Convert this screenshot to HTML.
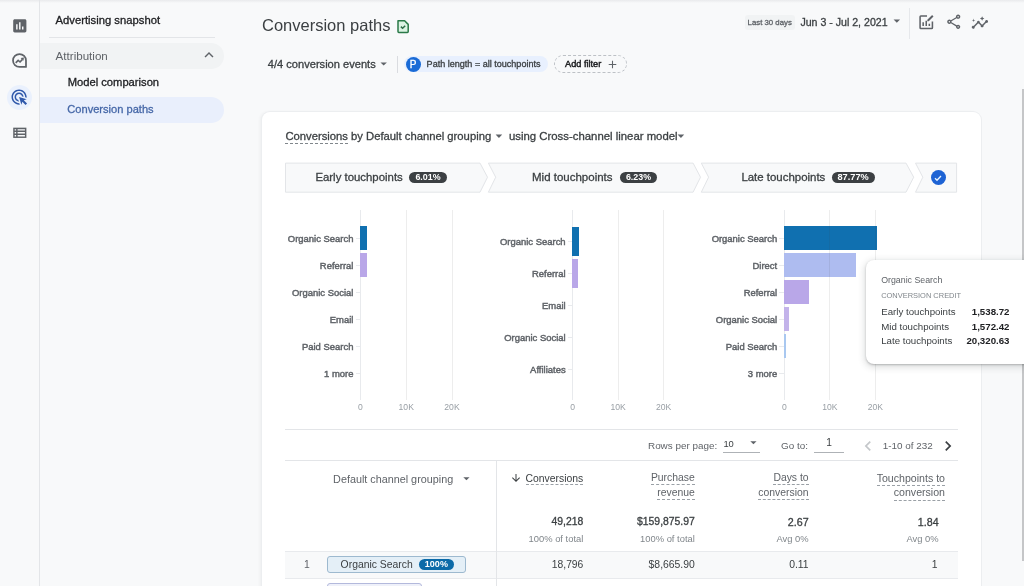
<!DOCTYPE html>
<html><head><meta charset="utf-8"><title>Conversion paths</title>
<style>
html,body{margin:0;padding:0;}
body{width:1024px;height:586px;overflow:hidden;position:relative;background:#f8f9fa;font-family:'Liberation Sans', Arial, sans-serif;}
.t{position:absolute;white-space:nowrap;line-height:1;}
</style></head><body>
<div style="position:absolute;left:0px;top:0px;width:1024px;height:3px;background:linear-gradient(#e9eaec,#f8f9fa)"></div>
<div style="position:absolute;left:39px;top:0px;width:1px;height:586px;background:#e3e5e8"></div>
<svg style="position:absolute;left:10.5px;top:16.5px;" width="17.6" height="17.6" viewBox="0 0 24 24"><path fill="#5f6368" d="M19 3H5c-1.1 0-2 .9-2 2v14c0 1.1.9 2 2 2h14c1.1 0 2-.9 2-2V5c0-1.1-.9-2-2-2zM9 17H7v-7h2v7zm4 0h-2V7h2v10zm4 0h-2v-4h2v4z"/></svg>
<svg style="position:absolute;left:10px;top:51px;" width="19" height="19" viewBox="0 0 24 24"><path d="M20.2 12A8.2 8.2 0 1 0 12 20.2H20.2Z" fill="none" stroke="#5f6368" stroke-width="2.2" stroke-linejoin="round"/><path d="M7.2 15l3.1-3.2 2.4 2.1 3-3.3" fill="none" stroke="#5f6368" stroke-width="2"/><path d="M17.6 8.2l-4.2.6 3.6 3.6z" fill="#5f6368"/></svg>
<div style="position:absolute;left:7.2px;top:84.8px;width:25px;height:25px;border-radius:50%;background:#eaf1fd"></div>
<svg style="position:absolute;left:10.3px;top:87.5px;" width="18.2" height="18.2" viewBox="0 0 24 24"><path fill="#3059ab" d="M11.71 17.99C8.53 17.84 6 15.22 6 12c0-3.31 2.69-6 6-6 3.22 0 5.84 2.53 5.99 5.71l-2.1-.63C15.48 9.31 13.89 8 12 8c-2.21 0-4 1.79-4 4 0 1.89 1.31 3.48 3.08 3.89l.63 2.1zM22 12c0 .3-.01.6-.04.9l-1.97-.59c.01-.1.01-.21.01-.31 0-4.42-3.58-8-8-8s-8 3.58-8 8 3.58 8 8 8c.1 0 .21 0 .31-.01l.59 1.97c-.3.03-.6.04-.9.04-5.52 0-10-4.48-10-10S6.48 2 12 2s10 4.48 10 10zm-3.77 4.26L22 15l-10-3 3 10 1.26-3.77 4.27 4.27 1.98-1.98-4.28-4.26z"/></svg>
<svg style="position:absolute;left:10.5px;top:124px;" width="17.6" height="17.6" viewBox="0 0 24 24"><path fill="#5f6368" d="M3 5h18v14H3z"/><path fill="#f8f9fa" d="M5 7h2v2H5zM9 7h10v2H9zM5 11h2v2H5zM9 11h10v2H9zM5 15h2v2H5zM9 15h10v2H9z"/></svg>
<div class="t" style="left:55.60px;top:15.28px;font-size:11.25px;color:#202124;font-weight:400;-webkit-text-stroke:0.3px currentColor;">Advertising snapshot</div>
<div style="position:absolute;left:49px;top:37px;width:166px;height:1px;background:#e3e5e8"></div>
<div style="position:absolute;left:40px;top:43px;width:183.6px;height:26.3px;background:#f1f3f4;border-radius:0 13px 13px 0"></div>
<div class="t" style="left:55.60px;top:49.68px;font-size:11.6px;color:#5f6368;font-weight:400;">Attribution</div>
<svg style="position:absolute;left:200px;top:46px;" width="18" height="18" viewBox="0 0 24 24"><path fill="#5f6368" d="M12 8l-6 6 1.41 1.41L12 10.83l4.59 4.58L18 14z"/></svg>
<div class="t" style="left:67.70px;top:77.02px;font-size:11.2px;color:#202124;font-weight:400;-webkit-text-stroke:0.3px currentColor;">Model comparison</div>
<div style="position:absolute;left:40px;top:96.6px;width:183.6px;height:26.4px;background:#e9effc;border-radius:0 13px 13px 0"></div>
<div class="t" style="left:67.30px;top:104.30px;font-size:11.1px;color:#4668a8;font-weight:400;-webkit-text-stroke:0.3px currentColor;">Conversion paths</div>
<div class="t" style="left:262.00px;top:16.83px;font-size:16.5px;color:#3c4043;font-weight:400;">Conversion paths</div>
<svg style="position:absolute;left:395px;top:18px;" width="16" height="16" viewBox="0 0 16 16"><path d="M3 2.8h6.6l3.6 3.6v7.2a.8.8 0 0 1-.8.8H3.8a.8.8 0 0 1-.8-.8z" fill="#dcf3e3" stroke="#2a7a48" stroke-width="1.5" stroke-linejoin="round"/><path d="M5.9 8.6l1.7 1.7 2.6-2.6" fill="none" stroke="#2f6e48" stroke-width="1.5"/></svg>
<div class="t" style="left:267.80px;top:58.60px;font-size:11.1px;color:#3c4043;font-weight:400;-webkit-text-stroke:0.3px currentColor;">4/4 conversion events</div>
<svg style="position:absolute;left:376.22px;top:56.20px" width="15.36" height="15.36" viewBox="0 0 24 24"><path fill="#5f6368" d="M7 10l5 5 5-5z"/></svg>
<div style="position:absolute;left:397px;top:56px;width:1px;height:16.5px;background:#dadce0"></div>
<div style="position:absolute;left:404.4px;top:56.2px;width:144px;height:15.4px;background:#e8f0fe;border-radius:8px"></div>
<div style="position:absolute;left:405.5px;top:56.5px;width:15.3px;height:15.3px;border-radius:50%;background:#1a6bd6;color:#fff;-webkit-text-stroke:0.3px #fff;font:400 10px/15.3px 'Liberation Sans', Arial, sans-serif;text-align:center">P</div>
<div class="t" style="left:426.60px;top:59.64px;font-size:9.05px;color:#3c4043;font-weight:400;-webkit-text-stroke:0.3px currentColor;">Path length = all touchpoints</div>
<div style="position:absolute;left:554.4px;top:55px;width:72.6px;height:17.6px;border:1px dashed #bdc1c6;border-radius:9px;box-sizing:border-box"></div>
<div class="t" style="left:565.00px;top:59.61px;font-size:9.2px;color:#202124;font-weight:400;-webkit-text-stroke:0.45px currentColor;">Add filter</div>
<svg style="position:absolute;left:605.5px;top:57.5px;" width="13" height="13" viewBox="0 0 24 24"><path fill="#5f6368" d="M19 13h-6v6h-2v-6H5v-2h6V5h2v6h6v2z"/></svg>
<div style="position:absolute;left:745px;top:14.5px;width:49.6px;height:15px;background:#f1f3f4;border-radius:3px"></div>
<div class="t" style="left:747.60px;top:19.00px;font-size:7.8px;color:#5f6368;font-weight:400;-webkit-text-stroke:0.3px currentColor;">Last 30 days</div>
<div class="t" style="left:800.40px;top:17.33px;font-size:10.6px;color:#3c4043;font-weight:400;-webkit-text-stroke:0.3px currentColor;">Jun 3 - Jul 2, 2021</div>
<svg style="position:absolute;left:888.60px;top:13.27px" width="15.60" height="15.60" viewBox="0 0 24 24"><path fill="#5f6368" d="M7 10l5 5 5-5z"/></svg>
<div style="position:absolute;left:909px;top:8px;width:1px;height:31px;background:#e6e8eb"></div>
<svg style="position:absolute;left:917.2px;top:12.8px;" width="18.5" height="18.5" viewBox="0 0 24 24"><path fill="none" stroke="#5f6368" stroke-width="2" d="M13 4H5a1 1 0 0 0-1 1v14a1 1 0 0 0 1 1h14a1 1 0 0 0 1-1v-8"/><path fill="#5f6368" d="M7 12h2v5H7zM11 10h2v7h-2zM15 14h2v3h-2z"/><path fill="#5f6368" d="M19.6 2.6l1.8 1.8-6.2 6.2h-1.8V8.8z"/></svg>
<svg style="position:absolute;left:944.65px;top:13.45px;" width="17.5" height="17.5" viewBox="0 0 24 24"><path fill="#5f6368" d="M18 16.08c-.76 0-1.44.3-1.96.77L8.91 12.7c.05-.23.09-.46.09-.7s-.04-.47-.09-.7l7.05-4.11c.54.5 1.25.81 2.04.81 1.66 0 3-1.34 3-3s-1.34-3-3-3-3 1.34-3 3c0 .24.04.47.09.7L8.04 9.81C7.5 9.31 6.79 9 6 9c-1.66 0-3 1.34-3 3s1.34 3 3 3c.79 0 1.5-.31 2.04-.81l7.12 4.16c-.05.21-.08.43-.08.65 0 1.61 1.31 2.92 2.92 2.92s2.92-1.31 2.92-2.92c0-1.61-1.31-2.92-2.92-2.92zM18 4c.55 0 1 .45 1 1s-.45 1-1 1-1-.45-1-1 .45-1 1-1zM6 13c-.55 0-1-.45-1-1s.45-1 1-1 1 .45 1 1-.45 1-1 1zm12 7.02c-.55 0-1-.45-1-1s.45-1 1-1 1 .45 1 1-.45 1-1 1z"/></svg>
<svg style="position:absolute;left:971.3px;top:13.7px;" width="17.8" height="17.8" viewBox="0 0 24 24"><path fill="#5f6368" d="M21 8c-1.45 0-2.26 1.44-1.93 2.51l-3.55 3.56c-.3-.09-.74-.09-1.04 0l-2.55-2.55C12.27 10.45 11.46 9 10 9c-1.45 0-2.27 1.44-1.93 2.52l-4.56 4.55C2.44 15.74 1 16.55 1 18c0 1.1.9 2 2 2 1.45 0 2.26-1.44 1.93-2.51l4.55-4.56c.3.09.74.09 1.04 0l2.55 2.55C12.73 16.55 13.54 18 15 18c1.45 0 2.27-1.44 1.93-2.52l3.56-3.55c1.07.33 2.51-.48 2.51-1.93 0-1.1-.9-2-2-2zM15 9l.94-2.07L18 6l-2.06-.93L15 3l-.92 2.07L12 6l2.08.93zM3.5 11L4 9l2-.5L4 8l-.5-2L3 8l-2 .5L3 9z"/></svg>
<div style="position:absolute;left:1021.8px;top:89px;width:2.2px;height:472px;background:#c5c6c8"></div>
<div style="position:absolute;left:262px;top:112px;width:718.5px;height:520px;background:#fff;border-radius:8px;box-shadow:0 0 0 1px #eceef0, -2px 0 3px rgba(60,64,67,.06)"></div>
<div class="t" style="left:285.40px;top:131.17px;font-size:11.26px;color:#3c4043;font-weight:400;-webkit-text-stroke:0.3px currentColor;"><span style="border-bottom:1px dashed #80868b;padding-bottom:1.2px">Conversions</span> by Default channel grouping</div>
<svg style="position:absolute;left:491.48px;top:127.85px" width="15.84" height="15.84" viewBox="0 0 24 24"><path fill="#5f6368" d="M7 10l5 5 5-5z"/></svg>
<div class="t" style="left:509.00px;top:131.08px;font-size:11.36px;color:#3c4043;font-weight:400;-webkit-text-stroke:0.3px currentColor;">using Cross-channel linear model</div>
<svg style="position:absolute;left:673.28px;top:127.85px" width="15.84" height="15.84" viewBox="0 0 24 24"><path fill="#5f6368" d="M7 10l5 5 5-5z"/></svg>
<svg style="position:absolute;left:0px;top:0px;pointer-events:none" width="1024" height="586" viewBox="0 0 1024 586"><polygon points="285.5,163.1 480,163.1 487.5,177.2 480,192.2 285.5,192.2" fill="#f8f9fa" stroke="#e3e5e8" stroke-width="1" stroke-linejoin="round"/><polygon points="488.4,163.1 693.1,163.1 700.5,177.2 693.1,192.2 488.4,192.2 495.7,177.2" fill="#f8f9fa" stroke="#e3e5e8" stroke-width="1" stroke-linejoin="round"/><polygon points="701.3,163.1 906,163.1 913.7,177.2 906,192.2 701.3,192.2 708.5999999999999,177.2" fill="#f8f9fa" stroke="#e3e5e8" stroke-width="1" stroke-linejoin="round"/><polygon points="915.5,163.1 956.6,163.1 956.6,192.2 915.5,192.2 922.8,177.2" fill="#f8f9fa" stroke="#e3e5e8" stroke-width="1" stroke-linejoin="round"/></svg>
<div class="t" style="left:315.40px;top:171.95px;font-size:11.4px;color:#3c4043;font-weight:400;-webkit-text-stroke:0.3px currentColor;">Early touchpoints</div>
<div style="position:absolute;left:408.9px;top:172.2px;width:38.2px;height:11px;border-radius:5.5px;background:#3c4043;color:#fff;font:bold 8.9px/11px 'Liberation Sans', Arial, sans-serif;text-align:center">6.01%</div>
<div class="t" style="left:532.00px;top:171.87px;font-size:11.5px;color:#3c4043;font-weight:400;-webkit-text-stroke:0.3px currentColor;">Mid touchpoints</div>
<div style="position:absolute;left:620px;top:172.2px;width:37px;height:11px;border-radius:5.5px;background:#3c4043;color:#fff;font:bold 8.9px/11px 'Liberation Sans', Arial, sans-serif;text-align:center">6.23%</div>
<div class="t" style="left:741.40px;top:171.91px;font-size:11.45px;color:#3c4043;font-weight:400;-webkit-text-stroke:0.3px currentColor;">Late touchpoints</div>
<div style="position:absolute;left:831.6px;top:172.2px;width:43px;height:11px;border-radius:5.5px;background:#3c4043;color:#fff;font:bold 9.2px/11px 'Liberation Sans', Arial, sans-serif;text-align:center">87.77%</div>
<div style="position:absolute;left:930.5px;top:169.8px;width:15.4px;height:15.4px;border-radius:50%;background:#1d63d4"></div>
<svg style="position:absolute;left:932.2px;top:171.5px;" width="12" height="12" viewBox="0 0 24 24"><path fill="none" stroke="#e8f4ff" stroke-width="2.6" d="M6 12.5l4 4 8-8.5"/></svg>
<div style="position:absolute;left:360.00px;top:209.6px;width:1px;height:190.4px;background:#e8eaed"></div>
<div class="t" style="right:670.60px;top:233.60px;font-size:9.45px;color:#5f6368;font-weight:400;-webkit-text-stroke:0.45px currentColor;">Organic Search</div>
<div style="position:absolute;left:355.50px;top:237.70px;width:5px;height:1px;background:#e8eaed"></div>
<div class="t" style="right:670.60px;top:260.60px;font-size:9.45px;color:#5f6368;font-weight:400;-webkit-text-stroke:0.45px currentColor;">Referral</div>
<div style="position:absolute;left:355.50px;top:264.70px;width:5px;height:1px;background:#e8eaed"></div>
<div class="t" style="right:670.60px;top:287.60px;font-size:9.45px;color:#5f6368;font-weight:400;-webkit-text-stroke:0.45px currentColor;">Organic Social</div>
<div style="position:absolute;left:355.50px;top:291.70px;width:5px;height:1px;background:#e8eaed"></div>
<div class="t" style="right:670.60px;top:314.60px;font-size:9.45px;color:#5f6368;font-weight:400;-webkit-text-stroke:0.45px currentColor;">Email</div>
<div style="position:absolute;left:355.50px;top:318.70px;width:5px;height:1px;background:#e8eaed"></div>
<div class="t" style="right:670.60px;top:341.60px;font-size:9.45px;color:#5f6368;font-weight:400;-webkit-text-stroke:0.45px currentColor;">Paid Search</div>
<div style="position:absolute;left:355.50px;top:345.70px;width:5px;height:1px;background:#e8eaed"></div>
<div class="t" style="right:670.60px;top:368.60px;font-size:9.45px;color:#5f6368;font-weight:400;-webkit-text-stroke:0.45px currentColor;">1 more</div>
<div style="position:absolute;left:355.50px;top:372.70px;width:5px;height:1px;background:#e8eaed"></div>
<div style="position:absolute;left:360.00px;top:226.20px;width:7.3px;height:23.6px;background:#1070b0"></div>
<div style="position:absolute;left:360.00px;top:253.20px;width:6.6px;height:23.6px;background:#b9a7e8"></div>
<div style="position:absolute;left:405.75px;top:209.6px;width:1px;height:190.4px;background:rgba(60,64,67,.095)"></div>
<div style="position:absolute;left:451.50px;top:209.6px;width:1px;height:190.4px;background:rgba(60,64,67,.095)"></div>
<div class="t" style="left:340.50px;width:40px;text-align:center;top:402.52px;font-size:8.6px;color:#9aa0a6">0</div>
<div class="t" style="left:386.25px;width:40px;text-align:center;top:402.52px;font-size:8.6px;color:#9aa0a6">10K</div>
<div class="t" style="left:432.00px;width:40px;text-align:center;top:402.52px;font-size:8.6px;color:#9aa0a6">20K</div>
<div style="position:absolute;left:572.10px;top:209.6px;width:1px;height:190.4px;background:#e8eaed"></div>
<div class="t" style="right:458.40px;top:236.70px;font-size:9.45px;color:#5f6368;font-weight:400;-webkit-text-stroke:0.45px currentColor;">Organic Search</div>
<div style="position:absolute;left:567.60px;top:240.80px;width:5px;height:1px;background:#e8eaed"></div>
<div class="t" style="right:458.40px;top:268.80px;font-size:9.45px;color:#5f6368;font-weight:400;-webkit-text-stroke:0.45px currentColor;">Referral</div>
<div style="position:absolute;left:567.60px;top:272.90px;width:5px;height:1px;background:#e8eaed"></div>
<div class="t" style="right:458.40px;top:300.90px;font-size:9.45px;color:#5f6368;font-weight:400;-webkit-text-stroke:0.45px currentColor;">Email</div>
<div style="position:absolute;left:567.60px;top:305.00px;width:5px;height:1px;background:#e8eaed"></div>
<div class="t" style="right:458.40px;top:333.00px;font-size:9.45px;color:#5f6368;font-weight:400;-webkit-text-stroke:0.45px currentColor;">Organic Social</div>
<div style="position:absolute;left:567.60px;top:337.10px;width:5px;height:1px;background:#e8eaed"></div>
<div class="t" style="right:458.40px;top:365.10px;font-size:9.45px;color:#5f6368;font-weight:400;-webkit-text-stroke:0.45px currentColor;">Affiliates</div>
<div style="position:absolute;left:567.60px;top:369.20px;width:5px;height:1px;background:#e8eaed"></div>
<div style="position:absolute;left:572.10px;top:227.30px;width:7.3px;height:29px;background:#1070b0"></div>
<div style="position:absolute;left:572.10px;top:259.40px;width:6.3px;height:29px;background:#b9a7e8"></div>
<div style="position:absolute;left:617.60px;top:209.6px;width:1px;height:190.4px;background:rgba(60,64,67,.095)"></div>
<div style="position:absolute;left:663.10px;top:209.6px;width:1px;height:190.4px;background:rgba(60,64,67,.095)"></div>
<div class="t" style="left:552.60px;width:40px;text-align:center;top:402.52px;font-size:8.6px;color:#9aa0a6">0</div>
<div class="t" style="left:598.10px;width:40px;text-align:center;top:402.52px;font-size:8.6px;color:#9aa0a6">10K</div>
<div class="t" style="left:643.60px;width:40px;text-align:center;top:402.52px;font-size:8.6px;color:#9aa0a6">20K</div>
<div style="position:absolute;left:783.90px;top:209.6px;width:1px;height:190.4px;background:#e8eaed"></div>
<div class="t" style="right:246.80px;top:233.70px;font-size:9.45px;color:#5f6368;font-weight:400;-webkit-text-stroke:0.45px currentColor;">Organic Search</div>
<div style="position:absolute;left:779.40px;top:237.80px;width:5px;height:1px;background:#e8eaed"></div>
<div class="t" style="right:246.80px;top:260.70px;font-size:9.45px;color:#5f6368;font-weight:400;-webkit-text-stroke:0.45px currentColor;">Direct</div>
<div style="position:absolute;left:779.40px;top:264.80px;width:5px;height:1px;background:#e8eaed"></div>
<div class="t" style="right:246.80px;top:287.70px;font-size:9.45px;color:#5f6368;font-weight:400;-webkit-text-stroke:0.45px currentColor;">Referral</div>
<div style="position:absolute;left:779.40px;top:291.80px;width:5px;height:1px;background:#e8eaed"></div>
<div class="t" style="right:246.80px;top:314.70px;font-size:9.45px;color:#5f6368;font-weight:400;-webkit-text-stroke:0.45px currentColor;">Organic Social</div>
<div style="position:absolute;left:779.40px;top:318.80px;width:5px;height:1px;background:#e8eaed"></div>
<div class="t" style="right:246.80px;top:341.70px;font-size:9.45px;color:#5f6368;font-weight:400;-webkit-text-stroke:0.45px currentColor;">Paid Search</div>
<div style="position:absolute;left:779.40px;top:345.80px;width:5px;height:1px;background:#e8eaed"></div>
<div class="t" style="right:246.80px;top:368.70px;font-size:9.45px;color:#5f6368;font-weight:400;-webkit-text-stroke:0.45px currentColor;">3 more</div>
<div style="position:absolute;left:779.40px;top:372.80px;width:5px;height:1px;background:#e8eaed"></div>
<div style="position:absolute;left:783.90px;top:226.30px;width:92.7px;height:23.6px;background:#1070b0"></div>
<div style="position:absolute;left:783.90px;top:253.30px;width:72.2px;height:23.6px;background:#aebcf0"></div>
<div style="position:absolute;left:783.90px;top:280.30px;width:25.0px;height:23.6px;background:#b9a7e8"></div>
<div style="position:absolute;left:783.90px;top:307.30px;width:4.9px;height:23.6px;background:#c3b3ea"></div>
<div style="position:absolute;left:783.90px;top:334.30px;width:1.8px;height:23.6px;background:#a9c8f0"></div>
<div style="position:absolute;left:829.40px;top:209.6px;width:1px;height:190.4px;background:rgba(60,64,67,.095)"></div>
<div style="position:absolute;left:874.90px;top:209.6px;width:1px;height:190.4px;background:rgba(60,64,67,.095)"></div>
<div class="t" style="left:764.40px;width:40px;text-align:center;top:402.52px;font-size:8.6px;color:#9aa0a6">0</div>
<div class="t" style="left:809.90px;width:40px;text-align:center;top:402.52px;font-size:8.6px;color:#9aa0a6">10K</div>
<div class="t" style="left:855.40px;width:40px;text-align:center;top:402.52px;font-size:8.6px;color:#9aa0a6">20K</div>
<div style="position:absolute;left:865.6px;top:259.8px;width:170px;height:104px;background:#fff;border-radius:8px;box-shadow:0 1px 2px rgba(60,64,67,.3),0 2px 6px 2px rgba(60,64,67,.15)"></div>
<div class="t" style="left:881.20px;top:275.95px;font-size:8.8px;color:#5f6368;font-weight:400;">Organic Search</div>
<div class="t" style="left:881.20px;top:292.49px;font-size:7.46px;color:#80868b;font-weight:400;">CONVERSION CREDIT</div>
<div class="t" style="left:881.20px;top:307.09px;font-size:9.7px;color:#3c4043;font-weight:400;">Early touchpoints</div>
<div class="t" style="left:881.20px;top:321.79px;font-size:9.7px;color:#3c4043;font-weight:400;">Mid touchpoints</div>
<div class="t" style="left:881.20px;top:336.49px;font-size:9.7px;color:#3c4043;font-weight:400;">Late touchpoints</div>
<div class="t" style="right:14.50px;top:307.09px;font-size:9.7px;color:#202124;font-weight:700;">1,538.72</div>
<div class="t" style="right:14.50px;top:321.79px;font-size:9.7px;color:#202124;font-weight:700;">1,572.42</div>
<div class="t" style="right:14.50px;top:336.49px;font-size:9.7px;color:#202124;font-weight:700;">20,320.63</div>
<div style="position:absolute;left:285px;top:429.3px;width:672.5px;height:1px;background:#e3e5e8"></div>
<div style="position:absolute;left:285px;top:459.8px;width:672.5px;height:1px;background:#e3e5e8"></div>
<div class="t" style="left:648.00px;top:441.12px;font-size:9.9px;color:#5f6368;font-weight:400;">Rows per page:</div>
<div class="t" style="left:723.40px;top:438.64px;font-size:9.4px;color:#3c4043;font-weight:400;">10</div>
<div style="position:absolute;left:723px;top:452.2px;width:37px;height:1px;background:#aeb2b6"></div>
<svg style="position:absolute;left:745.96px;top:435.45px" width="14.88" height="14.88" viewBox="0 0 24 24"><path fill="#5f6368" d="M7 10l5 5 5-5z"/></svg>
<div class="t" style="left:781.00px;top:441.12px;font-size:9.9px;color:#5f6368;font-weight:400;">Go to:</div>
<div class="t" style="left:826.20px;top:437.97px;font-size:10.2px;color:#3c4043;font-weight:400;">1</div>
<div style="position:absolute;left:814px;top:452.2px;width:29.7px;height:1px;background:#aeb2b6"></div>
<svg style="position:absolute;left:857.75px;top:436.2px;" width="20" height="20" viewBox="0 0 24 24"><path fill="#c4c7ca" d="M15.41 7.41L14 6l-6 6 6 6 1.41-1.41L10.83 12z"/></svg>
<div class="t" style="left:882.80px;top:440.92px;font-size:9.9px;color:#5f6368;font-weight:400;">1-10 of 232</div>
<svg style="position:absolute;left:938.25px;top:436.2px;" width="20" height="20" viewBox="0 0 24 24"><path fill="#3c4043" d="M10 6L8.59 7.41 13.17 12l-4.58 4.59L10 18l6-6z"/></svg>
<div class="t" style="left:333.10px;top:473.66px;font-size:10.8px;color:#5f6368;font-weight:400;">Default channel grouping</div>
<svg style="position:absolute;left:458.86px;top:470.65px" width="14.88" height="14.88" viewBox="0 0 24 24"><path fill="#5f6368" d="M7 10l5 5 5-5z"/></svg>
<svg style="position:absolute;left:509.5px;top:472.3px;" width="12" height="12" viewBox="0 0 24 24"><path fill="#3c4043" d="M20 12l-1.41-1.41L13 16.17V4h-2v12.17l-5.58-5.59L4 12l8 8 8-8z"/></svg>
<div class="t" style="right:440.70px;top:473.50px;font-size:10.4px;color:#3c4043;font-weight:400;"><span style="border-bottom:1px dashed #9aa0a6;padding-bottom:0.9px">Conversions</span></div>
<div class="t" style="right:329.20px;top:473.20px;font-size:10.4px;color:#5f6368;font-weight:400;"><span style="border-bottom:1px dashed #9aa0a6;padding-bottom:0.9px">Purchase</span></div>
<div class="t" style="right:329.20px;top:487.60px;font-size:10.4px;color:#5f6368;font-weight:400;"><span style="border-bottom:1px dashed #9aa0a6;padding-bottom:1.8px">revenue</span></div>
<div class="t" style="right:215.40px;top:473.20px;font-size:10.4px;color:#5f6368;font-weight:400;"><span style="border-bottom:1px dashed #9aa0a6;padding-bottom:0.9px">Days to</span></div>
<div class="t" style="right:215.40px;top:487.60px;font-size:10.4px;color:#5f6368;font-weight:400;"><span style="border-bottom:1px dashed #9aa0a6;padding-bottom:1.8px">conversion</span></div>
<div class="t" style="right:79.00px;top:473.03px;font-size:10.6px;color:#5f6368;font-weight:400;"><span style="border-bottom:1px dashed #9aa0a6;padding-bottom:0.9px">Touchpoints to</span></div>
<div class="t" style="right:79.00px;top:487.43px;font-size:10.6px;color:#5f6368;font-weight:400;"><span style="border-bottom:1px dashed #9aa0a6;padding-bottom:1.8px">conversion</span></div>
<div class="t" style="right:440.70px;top:517.40px;font-size:10.4px;color:#3c4043;font-weight:400;-webkit-text-stroke:0.3px currentColor;">49,218</div>
<div class="t" style="right:329.20px;top:517.40px;font-size:10.4px;color:#3c4043;font-weight:400;-webkit-text-stroke:0.3px currentColor;">$159,875.97</div>
<div class="t" style="right:215.40px;top:517.14px;font-size:10.7px;color:#3c4043;font-weight:400;-webkit-text-stroke:0.3px currentColor;">2.67</div>
<div class="t" style="right:85.40px;top:517.14px;font-size:10.7px;color:#3c4043;font-weight:400;-webkit-text-stroke:0.3px currentColor;">1.84</div>
<div class="t" style="right:440.70px;top:534.14px;font-size:9.4px;color:#80868b;font-weight:400;">100% of total</div>
<div class="t" style="right:329.20px;top:534.14px;font-size:9.4px;color:#80868b;font-weight:400;">100% of total</div>
<div class="t" style="right:215.40px;top:534.14px;font-size:9.4px;color:#80868b;font-weight:400;">Avg 0%</div>
<div class="t" style="right:85.40px;top:534.14px;font-size:9.4px;color:#80868b;font-weight:400;">Avg 0%</div>
<div style="position:absolute;left:285px;top:550.5px;width:672.5px;height:28.2px;background:#f8f9fa;border-top:1px solid #e8eaed;border-bottom:1px solid #e8eaed;box-sizing:border-box"></div>
<div class="t" style="left:304.00px;top:560.00px;font-size:10.4px;color:#5f6368;font-weight:400;">1</div>
<div style="position:absolute;left:327.3px;top:555.5px;width:138.5px;height:17.8px;background:#e4eff7;border:1px solid #9db9cf;border-radius:3px;box-sizing:border-box"></div>
<div class="t" style="left:340.60px;top:559.90px;font-size:10.4px;color:#3c4043;font-weight:400;">Organic Search</div>
<div style="position:absolute;left:419.2px;top:558.7px;width:34.4px;height:11.3px;border-radius:5.65px;background:#0b6aa8;color:#fff;font:bold 9px/11.3px 'Liberation Sans', Arial, sans-serif;text-align:center">100%</div>
<div class="t" style="right:440.70px;top:560.28px;font-size:10.3px;color:#3c4043;font-weight:400;">18,796</div>
<div class="t" style="right:329.20px;top:560.20px;font-size:10.4px;color:#3c4043;font-weight:400;">$8,665.90</div>
<div class="t" style="right:215.40px;top:560.20px;font-size:10.4px;color:#3c4043;font-weight:400;">0.11</div>
<div class="t" style="right:86.50px;top:560.20px;font-size:10.4px;color:#3c4043;font-weight:400;">1</div>
<div style="position:absolute;left:496px;top:460px;width:1px;height:126px;background:#e3e5e8"></div>
<div style="position:absolute;left:327.3px;top:583px;width:94.5px;height:10px;background:#eff1fa;border:1px solid #b3b9dc;border-radius:3px;box-sizing:border-box"></div>
</body></html>
